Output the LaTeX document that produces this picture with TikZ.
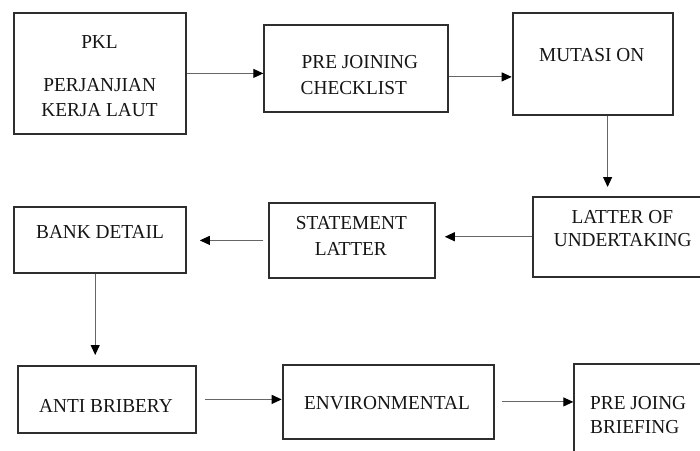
\documentclass[tikz,border=0pt]{standalone}
\usepackage{fontspec}
\setmainfont{Liberation Serif}[FakeStretch=0.975]
\usetikzlibrary{arrows.meta}
\definecolor{boxc}{HTML}{2E2E2E}
\definecolor{linec}{HTML}{666666}
\definecolor{txtc}{HTML}{151515}
\tikzset{
  stepbox/.style={draw=boxc, line width=1.8pt, inner sep=0pt, anchor=north west},
  lbl/.style={anchor=base, inner sep=0pt, text=txtc, font=\fontsize{19.8}{23}\selectfont},
  lbll/.style={lbl, anchor=base west},
  arr/.style={draw=linec, line width=1pt, -{Triangle[length=10pt,width=9pt,color=black]}}
}
\begin{document}
\begin{tikzpicture}[x=1pt,y=-1pt]
\useasboundingbox (0,0) rectangle (700,450);
\clip (0,0) rectangle (700,450);
% boxes
\node[stepbox, minimum width=171.7pt, minimum height=121.6pt] (pkl)  at (13.3,11.7) {};
\node[stepbox, minimum width=183.4pt, minimum height=87pt]    (pre)  at (263.3,24) {};
\node[stepbox, minimum width=160pt,   minimum height=102pt]   (mut)  at (511.7,12.3) {};
\node[stepbox, minimum width=200pt,   minimum height=79.7pt]  (lat)  at (532.3,196) {};
\node[stepbox, minimum width=165.7pt, minimum height=74.4pt]  (stm)  at (268.3,202.3) {};
\node[stepbox, minimum width=171.7pt, minimum height=66.6pt]  (bank) at (13.3,205.7) {};
\node[stepbox, minimum width=177.7pt, minimum height=67pt]    (anti) at (17.3,365) {};
\node[stepbox, minimum width=211pt,   minimum height=73.4pt]  (env)  at (281.7,364.3) {};
\node[stepbox, minimum width=160pt,   minimum height=120pt]   (brf)  at (573.3,363.3) {};
% texts
\node[lbl] (t1a) at (99.5,48.3) {PKL};
\node[lbl] (t1b) at (99.7,91.6) {PERJANJIAN};
\node[lbl] (t1c) at (99.5,116.6) {KERJA LAUT};
\node[lbll] (t2a) at (301.5,68.3) {PRE JOINING};
\node[lbll] (t2b) at (300.5,94.9) {CHECKLIST};
\node[lbl] (t3) at (591.7,61.6) {MUTASI ON};
\node[lbl] (t4a) at (622.3,223.9) {LATTER OF};
\node[lbl] (t4b) at (622.7,246.6) {UNDERTAKING};
\node[lbl] (t5a) at (351.3,229.3) {STATEMENT};
\node[lbl] (t5b) at (350.8,255.6) {LATTER};
\node[lbl] (t6) at (100,238.3) {BANK DETAIL};
\node[lbl] (t7) at (106,412.3) {ANTI BRIBERY};
\node[lbl] (t8) at (387,409.6) {ENVIRONMENTAL};
\node[lbll] (t9a) at (590,409.9) {PRE JOING};
\node[lbll] (t9b) at (590,433.9) {BRIEFING};
% connector anchors
\coordinate (c2) at ([yshift=-8.5pt]pre.east);
\coordinate (c3) at ([xshift=15pt]mut.south);
\coordinate (c6) at ([xshift=-4.85pt]bank.south);
% connectors
\draw[arr] (pkl.east) -- (pkl.east -| pre.west);
\draw[arr] (c2) -- (c2 -| mut.west);
\draw[arr, shorten >=9pt] (c3) -- (c3 |- lat.north);
\draw[arr, shorten >=9pt] (lat.west) -- (lat.west -| stm.east);
\draw[arr, shorten <=5pt, shorten >=13pt] (stm.west) -- (stm.west -| bank.east);
\draw[arr, shorten >=10pt] (c6) -- (c6 |- anti.north);
\draw[arr, shorten <=8pt] (anti.east) -- (anti.east -| env.west);
\draw[arr, shorten <=7pt] (env.east) -- (env.east -| brf.west);
\end{tikzpicture}
\end{document}
